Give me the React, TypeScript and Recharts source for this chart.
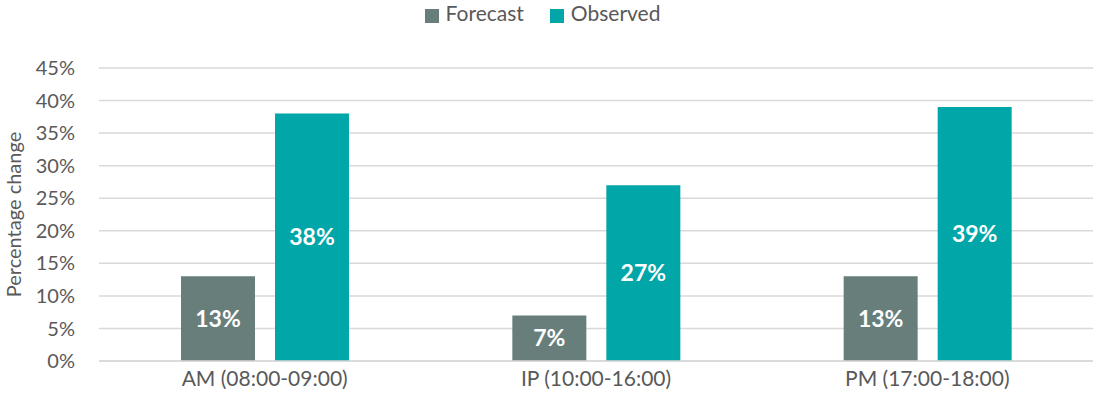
import { Bar, BarChart, CartesianGrid, LabelList, Legend, XAxis, YAxis } from "recharts";

const periods = ["AM (08:00-09:00)", "IP (10:00-16:00)", "PM (17:00-18:00)"];
const forecast = [13, 7, 13];
const observed = [38, 27, 39];
const yTicks = [0, 5, 10, 15, 20, 25, 30, 35, 40, 45];

const data = periods.map((period, i) => ({
  period,
  forecast: forecast[i],
  observed: observed[i],
}));

const font = "Lato, 'Open Sans', sans-serif";
const textGrey = "#595959";

document.body.style.margin = "0";

export default function App() {
  return (
    <div style={{ fontFamily: font }}>
      <BarChart
        width={1094}
        height={405}
        data={data}
        margin={{ top: 43, right: 1, left: 0, bottom: 14 }}
        barGap={20}
        barSize={74}
      >
        <CartesianGrid vertical={false} stroke="#d9d9d9" strokeWidth={1.5} />
        <XAxis
          dataKey="period"
          height={30}
          tickLine={false}
          axisLine={{ stroke: "#d9d9d9", strokeWidth: 1.5 }}
          tick={{ fontSize: 21, fill: textGrey, fontFamily: font }}
          tickMargin={4}
        />
        <YAxis
          width={99}
          domain={[0, 45]}
          ticks={yTicks}
          interval={0}
          tickLine={false}
          axisLine={false}
          tickSize={0}
          tickMargin={24}
          tick={{ fontSize: 20, fill: textGrey, fontFamily: font }}
          tickFormatter={(v: number) => `${v}%`}
          label={{
            value: "Percentage change",
            angle: -90,
            position: "insideLeft",
            offset: 14,
            style: { textAnchor: "middle", fontSize: 20, fill: textGrey, fontFamily: font },
          }}
        />
        <Legend
          verticalAlign="top"
          align="center"
          iconType="square"
          iconSize={14}
          wrapperStyle={{ top: 0, left: 9, fontSize: 21, fontFamily: font }}
          formatter={(value: string) => (
            <span style={{ color: textGrey, marginLeft: 3, marginRight: 16 }}>{value}</span>
          )}
        />
        <Bar dataKey="forecast" name="Forecast" fill="#687e7b" isAnimationActive={false}>
          <LabelList
            dataKey="forecast"
            position="center"
            formatter={(v: number) => `${v}%`}
            style={{ fill: "#ffffff", fontSize: 23, fontWeight: 700, fontFamily: font }}
          />
        </Bar>
        <Bar dataKey="observed" name="Observed" fill="#00a6a8" isAnimationActive={false}>
          <LabelList
            dataKey="observed"
            position="center"
            formatter={(v: number) => `${v}%`}
            style={{ fill: "#ffffff", fontSize: 23, fontWeight: 700, fontFamily: font }}
          />
        </Bar>
      </BarChart>
    </div>
  );
}
